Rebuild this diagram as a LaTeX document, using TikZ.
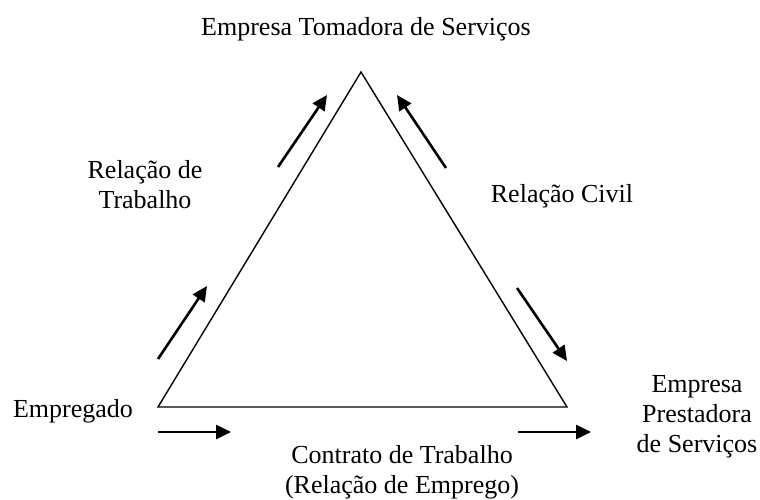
\documentclass[tikz,border=0pt]{standalone}
\usepackage{fontspec}
\setmainfont{Liberation Serif}
\usetikzlibrary{arrows.meta}
\usetikzlibrary{calc,positioning}

\begin{document}
\begin{tikzpicture}[x=1pt,y=-1pt,
  every node/.style={font=\fontsize{26}{30}\selectfont, align=center, inner sep=0pt},
  side/.style={line width=1.4pt, line join=miter},
  flow/.style={line width=2.6pt, -{Triangle[length=15pt,width=14pt]}}]
\useasboundingbox (0,0) rectangle (760,499);
% triangle corners
\coordinate (top) at (361,72);
\coordinate (left) at (158,407);
\coordinate (right) at (567,407);
\draw[side] (top) -- (left) -- (right) -- cycle;
% labels
\node (tomadora) at (366,29) {Empresa Tomadora de Serviços};
\node (empregado) at (73,411) {Empregado};
\node (prestadora) at (697,417) {Empresa\\Prestadora\\de Serviços};
\node (trab) at (145,185) {Relação de\\Trabalho};
\node (civil) at (562,196) {Relação Civil};
\node (contrato) at (402,472) {Contrato de Trabalho\\(Relação de Emprego)};
% arrows along the sides
\coordinate (a1) at (278,167); \coordinate (b1) at (327,95);
\coordinate (a2) at (446,168); \coordinate (b2) at (397,95);
\coordinate (a3) at (158,359); \coordinate (b3) at (207,286);
\coordinate (a4) at (517,288); \coordinate (b4) at (567,361);
\coordinate (a5) at (158,432); \coordinate (b5) at (231,432);
\coordinate (a6) at (518,432); \coordinate (b6) at (591,432);
\foreach \i in {1,...,6}
  \draw[flow] (a\i) -- (b\i);
\end{tikzpicture}
\end{document}
